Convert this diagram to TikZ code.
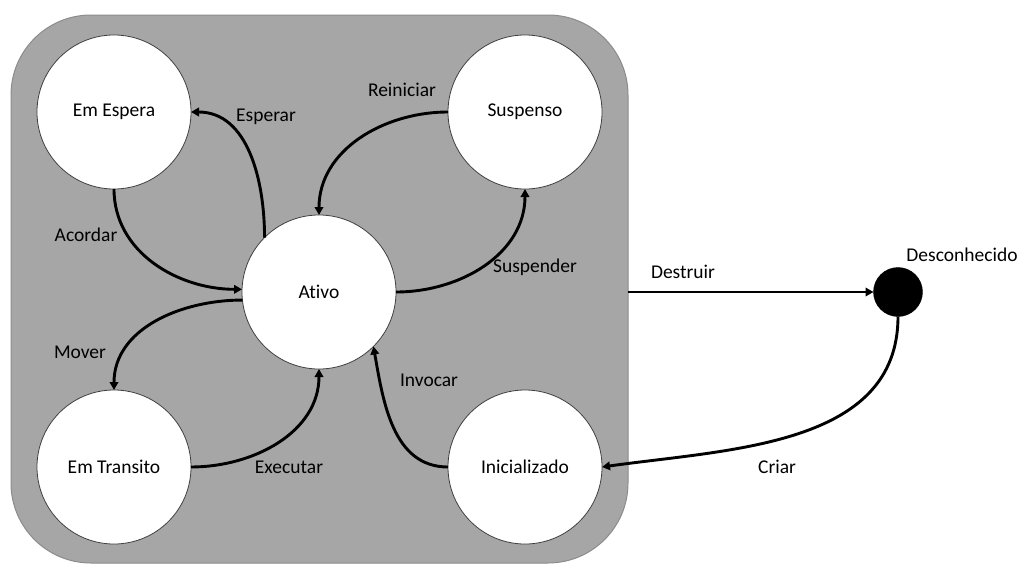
\documentclass[tikz,border=0pt]{standalone}
\usepackage{fontspec}
\setmainfont[Ligatures=NoCommon]{Carlito}
\usetikzlibrary{arrows.meta}
\definecolor{panelgray}{HTML}{A6A6A6}
\definecolor{paneledge}{HTML}{8C8C8C}
\definecolor{ringedge}{HTML}{404040}
\begin{document}
\begin{tikzpicture}[x=1pt,y=-1pt,
  font=\fontsize{19.5}{23}\selectfont,
  panel/.style={draw=paneledge, line width=1pt, fill=panelgray, rounded corners=80pt,
    minimum width=617pt, minimum height=548pt, inner sep=0pt, outer sep=0pt},
  statebox/.style={circle, draw=ringedge, line width=0.8pt, fill=white,
    minimum size=154pt, inner sep=0pt, outer sep=0pt},
  finalbox/.style={circle, draw=black, fill=black, minimum size=49pt, inner sep=0pt, outer sep=0pt},
  trans/.style={line width=2.9pt, -{Triangle[length=8pt,width=8.5pt]}},
  tlabel/.style={inner sep=0pt}]
\useasboundingbox (0,0) rectangle (1027,565);

% container of the life-cycle states
\node[panel] (sys) at (319.5,289) {};

% states
\node[statebox] (espera)   at (114,112) {Em Espera};
\node[statebox] (suspenso) at (525,112) {Suspenso};
\node[statebox] (ativo)    at (319,292) {Ativo};
\node[statebox] (transito) at (114,467) {Em Transito};
\node[statebox] (inicial)  at (525,467) {Inicializado};
\node[finalbox] (unk)      at (898,292) {};
\node[tlabel] (unklabel)   at (962,255) {Desconhecido};

% transitions
\draw[trans] (ativo.135) to[out=90,in=0] (espera.east);
\draw[trans] (espera.south) to[out=-90,in=180] (ativo.178);
\draw[trans] (suspenso.west) to[out=180,in=90] (ativo.north);
\draw[trans] (ativo.east) to[out=0,in=-90] (suspenso.south);
\draw[trans] (ativo.186) to[out=180,in=90] (transito.north);
\draw[trans] (transito.east) to[out=0,in=-90] (ativo.south);
\draw[trans] (inicial.west) to[out=180,in=-80] (ativo.-45);
\draw[trans] (sys.east |- unk) -- (unk.west);
\draw[trans] (unk.south) to[out=-90,in=8] (inicial.east);

% transition labels
\node[tlabel] (lEsperar)   at (266,117) {Esperar};
\node[tlabel] (lAcordar)   at (86,235)  {Acordar};
\node[tlabel] (lReiniciar) at (402,90)  {Reiniciar};
\node[tlabel] (lSuspender) at (535,267) {Suspender};
\node[tlabel] (lMover)     at (80,352)  {Mover};
\node[tlabel] (lExecutar)  at (289,467) {Executar};
\node[tlabel] (lInvocar)   at (429,380) {Invocar};
\node[tlabel] (lDestruir)  at (683,272) {Destruir};
\node[tlabel] (lCriar)     at (777,467) {Criar};
\end{tikzpicture}
\end{document}
